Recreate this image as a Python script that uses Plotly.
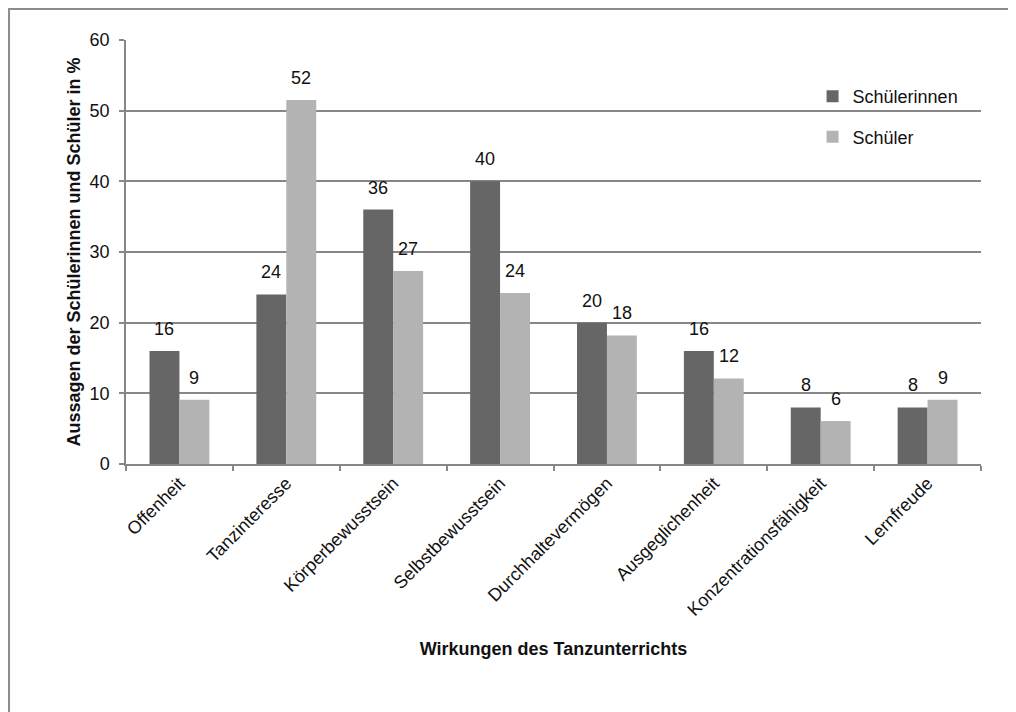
import plotly.graph_objects as go

categories = ["Offenheit", "Tanzinteresse", "Körperbewusstsein", "Selbstbewusstsein",
              "Durchhaltevermögen", "Ausgeglichenheit", "Konzentrationsfähigkeit", "Lernfreude"]
schuelerinnen = [16, 24, 36, 40, 20, 16, 8, 8]
schueler = [9.1, 51.5, 27.3, 24.2, 18.2, 12.1, 6.1, 9.1]

series_names = ["Schülerinnen", "Schüler"]
colors = ["#666666", "#B3B3B3"]

FONT = "Liberation Sans, Arial, sans-serif"
TXT = "#111111"
GRID = "#878787"

fig = go.Figure()
for name, vals, col in zip(series_names, [schuelerinnen, schueler], colors):
    fig.add_trace(go.Bar(
        x=categories, y=vals, name=name, marker=dict(color=col, line=dict(width=0)),
        legendgroup=name, hoverinfo="skip",
    ))

# data labels
for vals, shift in [(schuelerinnen, -15), (schueler, 15)]:
    for c, v in zip(categories, vals):
        fig.add_annotation(x=c, y=v, text=f"{round(v):d}", showarrow=False,
                           xshift=shift, yshift=10, yanchor="bottom",
                           font=dict(family=FONT, size=18, color=TXT))

# outer chart border (kept inside the figure canvas)
fig.add_shape(type="rect", xref="paper", yref="paper",
              x0=-0.1368, x1=1.2, y0=-0.7, y1=1.0731,
              line=dict(color="#8C8C8C", width=2), fillcolor="rgba(0,0,0,0)", layer="below")

fig.update_layout(
    width=1016, height=712,
    margin=dict(l=118, r=43, t=32, b=256, autoexpand=False),
    paper_bgcolor="white", plot_bgcolor="white",
    barmode="group", bargap=0.44, bargroupgap=0,
    font=dict(family=FONT, size=18, color=TXT),
    showlegend=True,
    legend=dict(x=0.803, y=0.91, xanchor="left", yanchor="top",
                bgcolor="rgba(0,0,0,0)", tracegroupgap=14,
                font=dict(family=FONT, size=18, color=TXT), traceorder="grouped"),
    xaxis=dict(
        type="category", tickangle=-45, tickson="boundaries",
        ticks="outside", ticklen=5, tickcolor=GRID, tickwidth=1.5,
        showline=True, linecolor=GRID, linewidth=1.5,
        showgrid=False, automargin=False,
        tickfont=dict(family=FONT, size=18, color=TXT),
        title=dict(text="<b>Wirkungen des Tanzunterrichts</b>", standoff=24,
                   font=dict(family=FONT, size=18, color=TXT)),
    ),
    yaxis=dict(
        range=[0, 60], dtick=10, tick0=0,
        ticks="outside", ticklen=5, tickcolor=GRID, tickwidth=1.5,
        ticklabelstandoff=6,
        showline=True, linecolor=GRID, linewidth=1.5,
        showgrid=True, gridcolor=GRID, gridwidth=1.5,
        zeroline=False, automargin=False,
        tickfont=dict(family=FONT, size=18, color=TXT),
        title=dict(text="<b>Aussagen der Schülerinnen und Schüler in %</b>", standoff=4,
                   font=dict(family=FONT, size=18, color=TXT)),
    ),
)

fig.write_html("out.html")
